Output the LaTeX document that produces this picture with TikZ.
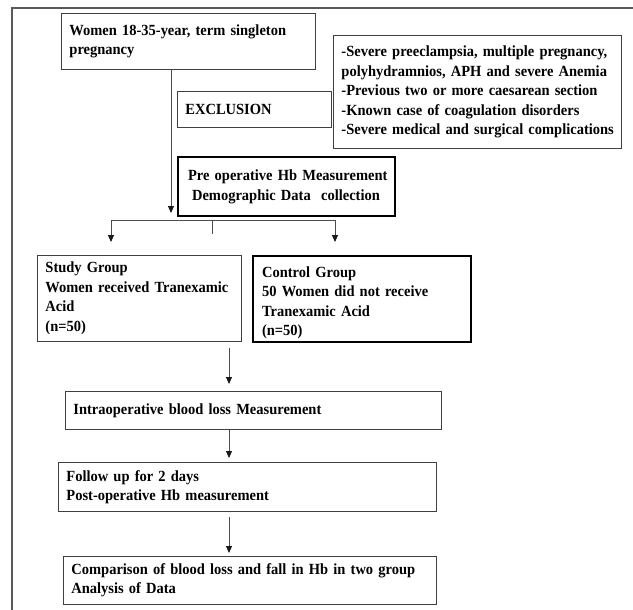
\documentclass[tikz,border=0pt]{standalone}
\usepackage{fontspec}
\setmainfont{Liberation Serif}[FakeStretch=0.935]
\usetikzlibrary{arrows.meta}
\begin{document}
\begin{tikzpicture}[x=1pt,y=-1pt,
  box/.style={draw=black!75, line width=0.9pt, rectangle, anchor=north west,
    inner xsep=8pt, inner ysep=0pt, align=left,
    font=\fontsize{15.5}{19.5}\selectfont\bfseries},
  thickbox/.style={box, draw=black, line width=2.2pt},
  conn/.style={draw=black!70, line width=0.9pt},
  arr/.style={conn, -{Triangle[length=7pt,width=6pt,color=black!90]}},
  frameline/.style={draw=black!65, line width=1.1pt}
]
\useasboundingbox (0,0) rectangle (633,610);
\draw[frameline] (633,8) -- (12,8) -- (12,610);

\node[box, text width=238pt, minimum height=56pt] (b1) at (61,13)
  {\mbox{Women 18-35-year, term singleton}\\\mbox{pregnancy}};
\node[box, text width=272pt, minimum height=113pt] (excl) at (333,35)
  {\mbox{-Severe preeclampsia, multiple pregnancy,}\\
   \mbox{polyhydramnios, APH and severe Anemia}\\
   \mbox{-Previous two or more caesarean section}\\
   \mbox{-Known case of coagulation disorders}\\
   \mbox{-Severe medical and surgical complications}};
\node[box, text width=138pt, minimum height=36pt] (exlab) at (177,91) {EXCLUSION};
\node[thickbox, inner xsep=10pt, text width=197pt, minimum height=59pt] (pre) at (177,156)
  {\mbox{Pre operative Hb Measurement}\\\mbox{\hspace{4pt}Demographic Data\ \ collection}};
\node[box, text width=188pt, minimum height=86pt] (study) at (37,255)
  {\mbox{Study Group}\\\mbox{Women received Tranexamic}\\\mbox{Acid}\\\mbox{(n=50)}};
\node[thickbox, inner xsep=9pt, text width=200pt, minimum height=86pt] (ctrl) at (252,255)
  {\mbox{\rule{0pt}{18pt}Control Group}\\\mbox{50 Women did not receive}\\\mbox{Tranexamic Acid}\\\mbox{(n=50)}};
\node[box, text width=360pt, minimum height=38pt] (intra) at (65,391)
  {\mbox{Intraoperative blood loss Measurement}};
\node[box, text width=362pt, minimum height=49pt] (follow) at (58,462)
  {\mbox{Follow up for 2 days}\\\mbox{Post-operative Hb measurement}};
\node[box, text width=357pt, minimum height=48pt] (comp) at (63,556)
  {\mbox{Comparison of blood loss and fall in Hb in two group}\\\mbox{Analysis of Data}};

% connectors
\coordinate (a1end) at (171,213);
\draw[arr] (b1.south -| a1end) -- (a1end);
\coordinate (brL) at (111,220);
\coordinate (brR) at (335,220);
\coordinate (stubtop) at (212,220);
\coordinate (stubbot) at (212,234);
\draw[conn] (brL) -- (brR);
\draw[conn] (stubtop) -- (stubbot);
\draw[arr, shorten >=13pt] (brL) -- (study.north -| brL);
\draw[arr, shorten >=13pt] (brR) -- (ctrl.north -| brR);
\coordinate (ax) at (229,0);
\draw[arr, shorten <=6pt, shorten >=7pt] (study.south -| ax) -- (intra.north -| ax);
\draw[arr, shorten >=4pt] (intra.south -| ax) -- (follow.north -| ax);
\draw[arr, shorten <=5pt, shorten >=3pt] (follow.south -| ax) -- (comp.north -| ax);
\end{tikzpicture}
\end{document}
